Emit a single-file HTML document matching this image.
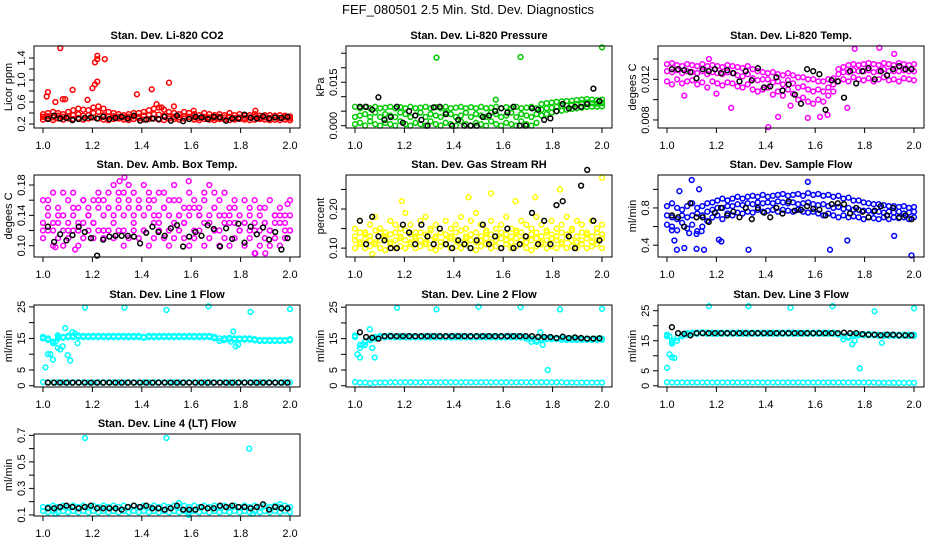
<!DOCTYPE html>
<html><head><meta charset="utf-8">
<style>
html,body{margin:0;padding:0;background:#fff;}
svg{display:block;font-family:"Liberation Sans",Arial,sans-serif;}
</style></head>
<body>
<svg id="chart" width="936" height="540" viewBox="0 0 936 540" xmlns="http://www.w3.org/2000/svg">
<rect x="0" y="0" width="936" height="540" fill="#fff"/>
<text x="468" y="14" text-anchor="middle" font-size="13">FEF_080501  2.5 Min. Std. Dev. Diagnostics</text>
</svg>
<script>
// ---------- data ----------
const xTicks = [1.0,1.2,1.4,1.6,1.8,2.0];
const xTickLabels = ["1.0","1.2","1.4","1.6","1.8","2.0"];

// Panel 1: CO2
const co2RedA = [0.38,0.40,0.42,0.40,0.38,0.42,0.45,0.48,0.46,0.45,0.50,0.52,0.48,0.42,0.40,0.38,0.36,0.38,0.40,0.40,0.42,0.45,0.48,0.50,0.46,0.42,0.40,0.38,0.42,0.40,0.38,0.36,0.40,0.38,0.36,0.38,0.36,0.40,0.36,0.38,0.35,0.36,0.38,0.35,0.36,0.36,0.35,0.36,0.35,0.34];
const co2RedB = [0.33,0.34,0.32,0.35,0.33,0.34,0.36,0.38,0.35,0.36,0.40,0.42,0.36,0.33,0.34,0.33,0.32,0.33,0.34,0.33,0.35,0.36,0.38,0.37,0.35,0.34,0.33,0.32,0.34,0.33,0.32,0.31,0.33,0.32,0.31,0.33,0.32,0.33,0.31,0.32,0.31,0.32,0.33,0.31,0.32,0.31,0.32,0.31,0.32,0.31];
const co2RedC = [0.28,0.30,0.27,0.30,0.28,0.30,0.29,0.31,0.28,0.30,0.32,0.30,0.28,0.27,0.29,0.30,0.28,0.27,0.29,0.30,0.28,0.29,0.30,0.28,0.27,0.30,0.29,0.28,0.30,0.29,0.28,0.27,0.29,0.28,0.27,0.29,0.28,0.27,0.28,0.29,0.28,0.27,0.28,0.29,0.28,0.27,0.28,0.27,0.28,0.27];
const co2RedOut = [[1.07,1.58],[1.22,1.44],[1.21,1.32],[1.22,1.38],[1.25,1.38],[1.02,0.78],[1.015,0.70],[1.2,0.85],[1.21,0.92],[1.22,0.97],[1.12,0.82],[1.08,0.65],[1.09,0.65],[1.05,0.60],[1.18,0.64],[1.38,0.74],[1.44,0.83],[1.51,0.95],[1.46,0.56],[1.53,0.52],[1.61,0.44],[1.86,0.44],[1.48,0.50],[1.0,0.33],[2.0,0.27]];
const co2Black = [0.29,0.35,0.30,0.31,0.27,0.29,0.31,0.32,0.30,0.33,0.29,0.31,0.33,0.30,0.35,0.26,0.28,0.30,0.29,0.33,0.26,0.35,0.25,0.29,0.33,0.32,0.29,0.33,0.32,0.26,0.30,0.30,0.37,0.31,0.30,0.34,0.30,0.32,0.31,0.33];

// Panel 2: Pressure
const prGreenA = [0.0065,0.006,0.0065,0.006,0.0065,0.006,0.0062,0.0065,0.006,0.0064,0.006,0.0065,0.006,0.0062,0.0065,0.006,0.0064,0.006,0.0065,0.006,0.0062,0.0065,0.006,0.0064,0.006,0.0065,0.006,0.0062,0.0065,0.006,0.0064,0.006,0.0065,0.006,0.0062,0.0065,0.006,0.0075,0.0078,0.008,0.0082,0.0084,0.0085,0.0086,0.0088,0.009,0.0092,0.009,0.0088,0.009];
const prGreenB = [0.003,0.0035,0.004,0.003,0.0045,0.003,0.004,0.0035,0.003,0.0045,0.004,0.003,0.0035,0.0045,0.003,0.004,0.0035,0.003,0.0045,0.004,0.003,0.0035,0.0045,0.003,0.004,0.0035,0.003,0.0045,0.004,0.003,0.0035,0.0045,0.003,0.004,0.0035,0.003,0.004,0.0055,0.006,0.0062,0.0065,0.0068,0.007,0.0072,0.0075,0.0078,0.008,0.0078,0.0076,0.0078];
const prGreenC = [0.0005,0.001,0.0,0.0015,0.0005,0.0,0.001,0.0005,0.0,0.0015,0.0005,0.0,0.001,0.0005,0.0,0.0015,0.0005,0.0,0.001,0.0005,0.0,0.0015,0.0005,0.0,0.001,0.0005,0.0,0.0015,0.0005,0.0,0.001,0.0005,0.0,0.0015,0.0005,0.0,0.001,0.0035,0.004,0.0045,0.005,0.0052,0.0055,0.0058,0.006,0.0062,0.0065,0.0066,0.0066,0.0067];
const prGreenOut = [[1.33,0.0235],[1.67,0.0237],[2.0,0.027],[1.57,0.0090]];
const prBlack = [0.0065,0.0065,0.0055,0.0098,0.002,0.003,0.0065,0.001,0.005,0.0035,0.002,0.0,0.0063,0.0065,0.004,0.0,0.002,0.0,0.0,0.0,0.003,0.0035,0.005,0.006,0.0045,0.0065,0.0,0.0,0.006,0.0055,0.002,0.0025,0.005,0.0075,0.006,0.0065,0.0065,0.0075,0.0128,0.0085];

// Panel 3: Li-820 Temp
const tpMagA = [0.0135,0.0136,0.0134,0.0133,0.0135,0.0134,0.0133,0.0135,0.0133,0.0134,0.0133,0.0132,0.0134,0.0133,0.0132,0.0131,0.0133,0.0130,0.0128,0.0127,0.0126,0.0127,0.0125,0.0124,0.0126,0.0124,0.0122,0.0122,0.0120,0.0120,0.0118,0.0118,0.0120,0.0121,0.0130,0.0132,0.0134,0.0135,0.0134,0.0135,0.0136,0.0135,0.0134,0.0136,0.0135,0.0134,0.0136,0.0135,0.0134,0.0135];
const tpMagB = [0.0128,0.0127,0.0129,0.0126,0.0128,0.0127,0.0126,0.0128,0.0125,0.0127,0.0126,0.0125,0.0127,0.0126,0.0124,0.0123,0.0125,0.0121,0.0119,0.0120,0.0120,0.0117,0.0118,0.0115,0.0119,0.0116,0.0112,0.0113,0.0110,0.0108,0.0110,0.0108,0.0112,0.0115,0.0125,0.0127,0.0127,0.0129,0.0128,0.0128,0.0129,0.0127,0.0128,0.0130,0.0128,0.0128,0.0128,0.0129,0.0128,0.0128];
const tpMagC = [0.0118,0.0115,0.0120,0.0116,0.0118,0.0119,0.0115,0.0117,0.0112,0.0118,0.0116,0.0114,0.0117,0.0116,0.0113,0.0112,0.0115,0.0110,0.0108,0.0110,0.0112,0.0105,0.0108,0.0104,0.0110,0.0106,0.0100,0.0102,0.0098,0.0096,0.0100,0.0098,0.0104,0.0108,0.0118,0.0120,0.0118,0.0122,0.0120,0.0119,0.0121,0.0118,0.0120,0.0122,0.0119,0.0120,0.0118,0.0121,0.0120,0.0119];
const tpMagOut = [[1.26,0.0092],[1.41,0.0073],[1.45,0.0083],[1.57,0.0082],[1.65,0.0085],[1.76,0.0150],[1.86,0.0151],[1.17,0.0140],[1.92,0.0145],[1.07,0.0104],[1.2,0.0106],[1.5,0.0094],[1.62,0.0083],[1.73,0.0092]];
const tpBlack = [0.0130,0.0130,0.0129,0.0127,0.0121,0.0130,0.0128,0.0130,0.0126,0.0129,0.0126,0.0118,0.0128,0.0119,0.0131,0.0112,0.0113,0.0122,0.0109,0.0115,0.0105,0.0096,0.0130,0.0128,0.0125,0.0090,0.0119,0.0118,0.0102,0.0128,0.0116,0.0128,0.0131,0.0120,0.0128,0.0124,0.0130,0.0133,0.0130,0.0130];

// Panel 4: Amb box temp
const abMagA = [0.16,0.15,0.17,0.15,0.14,0.16,0.17,0.15,0.16,0.15,0.16,0.17,0.16,0.17,0.18,0.16,0.17,0.18,0.17,0.16,0.18,0.17,0.16,0.17,0.17,0.16,0.18,0.16,0.15,0.17,0.16,0.15,0.17,0.18,0.17,0.16,0.17,0.15,0.16,0.14,0.16,0.15,0.16,0.14,0.15,0.16,0.14,0.15,0.14,0.16];
const abMagB = [0.13,0.14,0.12,0.13,0.12,0.13,0.14,0.12,0.13,0.14,0.13,0.15,0.14,0.15,0.14,0.15,0.14,0.15,0.14,0.15,0.14,0.15,0.13,0.14,0.15,0.14,0.13,0.14,0.13,0.14,0.15,0.14,0.13,0.14,0.15,0.14,0.13,0.14,0.13,0.12,0.13,0.12,0.13,0.12,0.13,0.12,0.13,0.14,0.13,0.12];
const abMagC = [0.11,0.12,0.10,0.11,0.10,0.11,0.12,0.10,0.11,0.12,0.11,0.12,0.11,0.12,0.11,0.12,0.10,0.11,0.12,0.11,0.12,0.10,0.11,0.12,0.11,0.10,0.11,0.12,0.11,0.10,0.11,0.12,0.10,0.11,0.12,0.10,0.11,0.10,0.11,0.12,0.10,0.11,0.09,0.10,0.11,0.10,0.11,0.10,0.11,0.12];
const abMagD = [0.12,0.16,0.13,0.14,0.17,0.12,0.15,0.13,0.16,0.14,0.13,0.16,0.12,0.15,0.13,0.17,0.12,0.16,0.13,0.15,0.12,0.16,0.14,0.13,0.15,0.12,0.16,0.14,0.13,0.15,0.12,0.14,0.16,0.13,0.15,0.12,0.14,0.13,0.15,0.12,0.13,0.14,0.12,0.15,0.13,0.12,0.14,0.13,0.12,0.14];
const abMagOut = [[1.33,0.19],[1.31,0.185],[1.59,0.185],[1.86,0.09],[1.9,0.09],[1.99,0.155],[1.05,0.098],[1.13,0.095]];
const abBlack = [0.125,0.105,0.115,0.107,0.114,0.125,0.118,0.110,0.087,0.108,0.112,0.113,0.113,0.113,0.112,0.103,0.117,0.125,0.118,0.113,0.123,0.127,0.099,0.112,0.118,0.113,0.127,0.122,0.099,0.123,0.109,0.129,0.104,0.125,0.115,0.124,0.108,0.118,0.095,0.110];

// Panel 5: Gas stream RH
const rhYelA = [0.10,0.11,0.10,0.105,0.11,0.10,0.095,0.11,0.10,0.105,0.10,0.11,0.10,0.105,0.11,0.10,0.095,0.105,0.11,0.10,0.105,0.10,0.11,0.10,0.095,0.105,0.11,0.10,0.105,0.10,0.11,0.10,0.105,0.11,0.10,0.095,0.105,0.11,0.10,0.105,0.10,0.11,0.10,0.105,0.10,0.11,0.10,0.105,0.11,0.10];
const rhYelB = [0.12,0.115,0.125,0.12,0.115,0.12,0.125,0.115,0.12,0.125,0.12,0.115,0.125,0.12,0.115,0.12,0.125,0.115,0.12,0.125,0.12,0.115,0.125,0.12,0.115,0.12,0.125,0.115,0.12,0.125,0.12,0.115,0.125,0.12,0.115,0.12,0.125,0.115,0.12,0.125,0.12,0.115,0.125,0.12,0.115,0.12,0.125,0.115,0.12,0.125];
const rhYelC = [0.15,0.17,0.14,0.16,0.18,0.15,0.14,0.17,0.16,0.15,0.19,0.16,0.14,0.17,0.18,0.15,0.16,0.14,0.17,0.15,0.16,0.18,0.15,0.17,0.19,0.16,0.14,0.17,0.15,0.16,0.18,0.15,0.14,0.17,0.16,0.15,0.18,0.16,0.14,0.17,0.15,0.16,0.18,0.15,0.17,0.16,0.14,0.17,0.15,0.16];
const rhYelD = [0.13,0.14,0.135,0.13,0.145,0.14,0.13,0.135,0.14,0.13,0.145,0.135,0.13,0.14,0.135,0.145,0.13,0.14,0.135,0.13,0.14,0.145,0.13,0.135,0.14,0.13,0.145,0.135,0.13,0.14,0.135,0.13,0.145,0.14,0.13,0.135,0.14,0.13,0.145,0.135,0.13,0.14,0.135,0.145,0.13,0.14,0.135,0.13,0.14,0.135];
const rhYelOut = [[2.0,0.28],[1.55,0.24],[1.83,0.25],[1.19,0.22],[1.46,0.23],[1.07,0.085],[1.73,0.23],[1.65,0.22]];
const rhBlack = [0.17,0.11,0.18,0.13,0.12,0.10,0.10,0.16,0.14,0.11,0.16,0.13,0.11,0.15,0.11,0.10,0.12,0.11,0.10,0.12,0.16,0.11,0.13,0.10,0.15,0.10,0.11,0.13,0.19,0.11,0.17,0.11,0.21,0.22,0.13,0.10,0.26,0.30,0.17,0.12];

// Panel 6: Sample flow
const sfBlueA = [0.82,0.85,0.80,0.78,0.82,0.85,0.80,0.82,0.85,0.86,0.88,0.90,0.88,0.90,0.92,0.90,0.92,0.93,0.92,0.94,0.92,0.93,0.94,0.95,0.93,0.94,0.95,0.93,0.96,0.94,0.95,0.93,0.94,0.92,0.93,0.90,0.91,0.88,0.88,0.86,0.85,0.84,0.84,0.83,0.82,0.82,0.81,0.82,0.80,0.81];
const sfBlueB = [0.72,0.70,0.68,0.72,0.70,0.72,0.74,0.72,0.76,0.78,0.80,0.80,0.82,0.82,0.84,0.83,0.85,0.84,0.86,0.85,0.86,0.85,0.87,0.86,0.85,0.86,0.84,0.85,0.86,0.84,0.83,0.84,0.82,0.80,0.81,0.79,0.80,0.78,0.78,0.77,0.77,0.76,0.76,0.75,0.76,0.75,0.76,0.74,0.75,0.76];
const sfBlueC = [0.62,0.60,0.56,0.64,0.58,0.62,0.55,0.60,0.66,0.70,0.72,0.68,0.74,0.72,0.75,0.74,0.76,0.75,0.78,0.76,0.77,0.78,0.76,0.78,0.77,0.76,0.78,0.76,0.75,0.76,0.74,0.72,0.74,0.72,0.70,0.72,0.70,0.71,0.70,0.68,0.70,0.69,0.68,0.70,0.68,0.70,0.69,0.70,0.68,0.70];
const sfBlueOut = [[1.1,1.1],[1.03,0.45],[1.04,0.35],[1.07,0.37],[1.12,0.36],[1.15,0.35],[1.21,0.46],[1.22,0.44],[1.33,0.35],[1.57,1.08],[1.66,0.35],[1.73,0.45],[1.92,0.50],[1.99,0.29],[1.05,0.98],[1.13,1.0],[1.12,0.52],[1.09,0.53],[1.14,0.55],[1.02,0.56]];
const sfBlack = [0.72,0.70,0.60,0.85,0.70,0.70,0.65,0.75,0.80,0.72,0.76,0.70,0.80,0.68,0.80,0.75,0.70,0.80,0.74,0.87,0.77,0.78,0.82,0.79,0.78,0.72,0.84,0.85,0.84,0.74,0.80,0.76,0.70,0.77,0.82,0.72,0.80,0.70,0.72,0.68];

// Panel 7: Line 1 flow
const l1CyanA = [15,15,14,15.5,15.5,15.8,15.8,16,15.8,15.8,15.8,15.8,15.8,15.8,15.8,15.8,15.8,15.8,15.8,15.8,15.5,15.8,15.8,15.8,15.8,15.8,15.8,15.8,15.8,15.8,15.8,15.8,15.8,15.8,15.5,15,15,15.2,15,15,15,15,14.8,14.5,14.5,14.5,14.5,14.5,14.5,14.8];
const l1CyanB = [15.5,14.5,13.5,15,15.2,15.4,15.4,15.5,15.4,15.4,15.4,15.4,15.4,15.4,15.4,15.4,15.4,15.4,15.4,15.4,15.2,15.4,15.4,15.4,15.4,15.4,15.4,15.4,15.4,15.4,15.4,15.4,15.4,15.4,15,14.2,14.5,14.8,14.6,14.6,14.6,14.6,14.4,14.2,14.2,14.2,14.2,14.2,14.2,14.4];
const l1CyanLow = [1.2,1.1,1.1,1.1,1.1,1.1,1.1,1.1,1.1,1.1,1.1,1.1,1.1,1.1,1.1,1.1,1.1,1.1,1.1,1.1,1.1,1.1,1.1,1.1,1.1,1.1,1.1,1.1,1.1,1.1,1.1,1.1,1.1,1.1,1.1,1.1,1.1,1.1,1.1,1.1,1.1,1.1,1.1,1.1,1.1,1.1,1.1,1.1,1.1,1.1];
const l1CyanOut = [[1.17,24.8],[1.33,24.8],[1.5,24.0],[1.67,25.2],[1.84,23.4],[2.0,24.3],[1.01,5.8],[1.02,10],[1.03,10],[1.04,8.3],[1.06,12],[1.07,11.5],[1.09,18.3],[1.08,12.5],[1.1,9.7],[1.11,8],[1.12,17],[1.13,16.5],[1.14,13.5],[1.77,17.2],[1.78,12.5],[1.79,13],[1.76,14],[1.05,14],[1.06,16],[1.0,15.5]];
const l1Black = [1.0,1.0,1.0,1.0,1.0,1.0,1.0,1.0,1.0,1.0,1.0,1.0,1.0,1.0,1.0,1.0,1.0,1.0,1.0,1.0,1.0,1.0,1.0,1.0,1.0,1.0,1.0,1.0,1.0,1.0,1.0,1.0,1.0,1.0,1.0,1.0,1.0,1.0,1.0,1.0];

// Panel 8: Line 2 flow
const l2CyanA = [15.5,13,14,15,15.5,15.8,15.8,16,15.8,15.8,15.8,15.8,15.8,15.8,15.8,15.8,15.8,15.8,15.8,15.8,15.8,15.8,15.8,15.8,15.8,15.8,15.8,15.8,15.8,15.8,15.8,15.8,15.8,15.8,15.5,15,14.5,15,15.2,15.2,15.2,15.2,15,15,15,15,15,15,15,15];
const l2CyanB = [16,12,13,14.5,15,15.4,15.4,15.5,15.4,15.4,15.4,15.4,15.4,15.4,15.4,15.4,15.4,15.4,15.4,15.4,15.4,15.4,15.4,15.4,15.4,15.4,15.4,15.4,15.4,15.4,15.4,15.4,15.4,15.4,15,14,14,14.6,14.8,14.8,14.8,14.6,14.6,14.6,14.6,14.6,14.6,14.6,14.6,14.6];
const l2CyanLow = [1.2,1.0,1.0,0.8,1.0,1.0,1.0,1.1,1.1,1.1,1.1,1.1,1.1,1.1,1.1,1.1,1.1,1.1,1.1,1.1,1.1,1.1,1.1,1.1,1.1,1.1,1.1,1.1,1.1,1.1,1.1,1.1,1.1,1.1,1.1,1.1,1.1,1.1,1.1,1.1,1.1,1.1,1.0,1.0,1.0,1.0,1.0,1.0,1.0,1.0];
const l2CyanOut = [[1.17,24.8],[1.33,24.3],[1.5,25.2],[1.67,25],[1.83,24.3],[2.0,24.5],[1.78,5],[1.01,10],[1.02,9],[1.08,9],[1.07,12],[1.06,18],[1.03,13],[1.04,14],[1.76,13],[1.75,17],[1.0,15.5]];
const l2Black = [17,15.5,15.3,15,15.8,15.8,15.8,15.8,15.8,15.8,15.8,15.8,15.8,15.8,15.8,15.8,15.8,15.8,15.8,15.8,15.8,15.8,15.8,15.8,15.8,15.8,15.8,15.8,15.8,15.5,15.5,15.5,15.2,15.6,15.2,15.4,15.2,15,15,15.1];

// Panel 9: Line 3 flow
const l3CyanA = [16.5,14,15,16.5,17,17.3,17.3,17.5,17.3,17.3,17.3,17.3,17.3,17.3,17.3,17.3,17.3,17.3,17.3,17.3,17.3,17.3,17.3,17.3,17.3,17.3,17.3,17.3,17.3,17.3,17.3,17.3,17.3,17.3,17,16.5,16,16.6,16.8,16.8,16.8,16.8,16.6,16.6,16.6,16.6,16.6,16.6,16.6,16.6];
const l3CyanB = [17,15,16,17,17.5,17.7,17.7,17.8,17.7,17.7,17.7,17.7,17.7,17.7,17.7,17.7,17.7,17.7,17.7,17.7,17.7,17.7,17.7,17.7,17.7,17.7,17.7,17.7,17.7,17.7,17.7,17.7,17.7,17.7,17.4,15.5,16.5,17.2,17.2,17.2,17.2,17.1,17,17,17,17,17,17,17,17];
const l3CyanLow = [1.2,1.1,1.1,1.1,1.1,1.1,1.1,1.1,1.1,1.1,1.1,1.1,1.1,1.1,1.1,1.1,1.1,1.1,1.1,1.1,1.1,1.1,1.1,1.1,1.1,1.1,1.1,1.1,1.1,1.1,1.1,1.1,1.1,1.1,1.1,1.1,1.1,1.1,1.1,1.1,1.1,1.1,1.0,1.0,1.0,1.0,1.0,1.0,1.0,1.0];
const l3CyanOut = [[1.17,26.5],[1.33,26.5],[1.5,26],[1.67,26.5],[1.84,24.8],[2.0,25.8],[1.0,6],[1.01,10.5],[1.02,9.5],[1.03,9.3],[1.02,14.5],[1.78,5.8],[1.75,13.8],[1.76,15],[1.87,14.3],[1.01,16.5]];
const l3Black = [19.5,17.5,17.3,16.8,17.5,17.5,17.5,17.5,17.5,17.5,17.5,17.5,17.5,17.5,17.5,17.5,17.5,17.5,17.5,17.5,17.5,17.5,17.5,17.5,17.5,17.5,17.5,17.5,17.7,17.5,17.5,17.2,17,17,16.8,17,17,16.8,16.8,16.8];

// Panel 10: Line 4 (LT) flow
const l4CyanA = [0.16,0.16,0.17,0.16,0.17,0.16,0.17,0.16,0.17,0.16,0.17,0.16,0.17,0.16,0.17,0.16,0.17,0.16,0.17,0.16,0.17,0.16,0.17,0.16,0.17,0.16,0.17,0.16,0.17,0.16,0.17,0.16,0.17,0.16,0.17,0.16,0.17,0.16,0.17,0.16,0.17,0.16,0.17,0.16,0.17,0.16,0.17,0.16,0.17,0.16];
const l4CyanB = [0.13,0.12,0.13,0.12,0.13,0.12,0.13,0.12,0.13,0.12,0.13,0.12,0.13,0.12,0.13,0.12,0.13,0.12,0.13,0.12,0.13,0.12,0.13,0.12,0.13,0.12,0.13,0.12,0.13,0.12,0.13,0.12,0.13,0.12,0.13,0.12,0.13,0.12,0.13,0.12,0.13,0.12,0.13,0.12,0.13,0.12,0.13,0.12,0.13,0.12];
const l4CyanOut = [[1.17,0.68],[1.5,0.68],[1.835,0.60],[1.55,0.19],[1.05,0.11],[1.59,0.10],[1.85,0.11],[1.96,0.18]];
const l4Black = [0.15,0.15,0.16,0.17,0.16,0.15,0.16,0.17,0.15,0.15,0.15,0.15,0.14,0.16,0.17,0.16,0.17,0.15,0.15,0.14,0.15,0.17,0.14,0.14,0.14,0.16,0.15,0.15,0.17,0.16,0.17,0.16,0.16,0.15,0.16,0.18,0.14,0.16,0.15,0.15];

// ---------- panels ----------
const CY = "#00ffff", MG = "#ff00ff";
const panels = [
 {id:"co2",title:"Stan. Dev. Li-820 CO2",ylab:"Licor ppm",col:0,row:0,ylim:[0.127,1.618],yt:[0.2,0.4,0.6,0.8,1.0,1.2,1.4],yl:["0.2","","0.6","","1.0","","1.4"],
  bands:[[co2RedA,"red"],[co2RedB,"red"],[co2RedC,"red"]],out:[co2RedOut,"red"],blk:co2Black},
 {id:"pressure",title:"Stan. Dev. Li-820 Pressure",ylab:"kPa",col:1,row:0,ylim:[-0.0008,0.0275],yt:[0,0.005,0.01,0.015,0.02,0.025],yl:["0.000","","","0.015","",""],
  bands:[[prGreenA,"#00cc00"],[prGreenB,"#00cc00"],[prGreenC,"#00cc00"]],out:[prGreenOut,"#00cc00"],blk:prBlack},
 {id:"temp",title:"Stan. Dev. Li-820 Temp.",ylab:"degees C",col:2,row:0,ylim:[0.00721,0.01528],yt:[0.008,0.010,0.012,0.014],yl:["0.008","","0.012",""],
  bands:[[tpMagA,MG],[tpMagB,MG],[tpMagC,MG]],out:[tpMagOut,MG],blk:tpBlack},
 {id:"amb-box",title:"Stan. Dev. Amb. Box Temp.",ylab:"degees C",col:0,row:1,ylim:[0.0851,0.1932],yt:[0.10,0.12,0.14,0.16,0.18],yl:["0.10","","0.14","","0.18"],
  bands:[[abMagA,MG],[abMagB,MG],[abMagC,MG],[abMagD,MG]],out:[abMagOut,MG],blk:abBlack},
 {id:"rh",title:"Stan. Dev. Gas Stream RH",ylab:"percent",col:1,row:1,ylim:[0.0773,0.287],yt:[0.10,0.15,0.20,0.25],yl:["0.10","","0.20",""],
  bands:[[rhYelA,"#ffff00"],[rhYelB,"#ffff00"],[rhYelD,"#ffff00"],[rhYelC,"#ffff00"]],out:[rhYelOut,"#ffff00"],blk:rhBlack},
 {id:"sample-flow",title:"Stan. Dev. Sample Flow",ylab:"ml/min",col:2,row:1,ylim:[0.273,1.154],yt:[0.4,0.6,0.8,1.0],yl:["0.4","","0.8",""],
  bands:[[sfBlueA,"#0000ff"],[sfBlueB,"#0000ff"],[sfBlueC,"#0000ff"]],out:[sfBlueOut,"#0000ff"],blk:sfBlack},
 {id:"line1",title:"Stan. Dev. Line 1 Flow",ylab:"ml/min",col:0,row:2,ylim:[-0.4,25.6],yt:[0,5,10,15,20,25],yl:["0","5","","15","","25"],
  bands:[[l1CyanA,CY],[l1CyanB,CY],[l1CyanLow,CY]],out:[l1CyanOut,CY],blk:l1Black},
 {id:"line2",title:"Stan. Dev. Line 2 Flow",ylab:"ml/min",col:1,row:2,ylim:[-0.4,25.7],yt:[0,5,10,15,20,25],yl:["0","5","","15","","25"],
  bands:[[l2CyanA,CY],[l2CyanB,CY],[l2CyanLow,CY]],out:[l2CyanOut,CY],blk:l2Black},
 {id:"line3",title:"Stan. Dev. Line 3 Flow",ylab:"ml/min",col:2,row:2,ylim:[-0.4,26.9],yt:[0,5,10,15,20,25],yl:["0","5","","15","","25"],
  bands:[[l3CyanA,CY],[l3CyanB,CY],[l3CyanLow,CY]],out:[l3CyanOut,CY],blk:l3Black},
 {id:"line4",title:"Stan. Dev. Line 4 (LT) Flow",ylab:"ml/min",col:0,row:3,ylim:[0.092,0.71],yt:[0.1,0.2,0.3,0.4,0.5,0.6,0.7],yl:["0.1","","0.3","","0.5","","0.7"],
  bands:[[l4CyanA,CY],[l4CyanB,CY]],out:[l4CyanOut,CY],blk:l4Black}
];

const NS="http://www.w3.org/2000/svg";
const svg=document.getElementById("chart");
const colLeft=[34,346,658], rowTop=[46,175,305,434], W=266, H=82;
function mk(tag,attrs,parent){const e=document.createElementNS(NS,tag);for(const k in attrs)e.setAttribute(k,attrs[k]);parent.appendChild(e);return e;}

panels.forEach(p=>{
  const L=colLeft[p.col], T=rowTop[p.row], B=T+H;
  const g=mk("g",{},svg);
  
  
  const xs=x=>L+9+(x-1)*247;
  const ys=y=>B-(y-p.ylim[0])/(p.ylim[1]-p.ylim[0])*H;
  const t=mk("text",{x:L+W/2,y:T-7,"text-anchor":"middle","font-size":"11","font-weight":"bold"},g);
  t.textContent=p.title;
  
  
  // points
  const pts=mk("g",{fill:"none","stroke-width":"1.5"},g);
  
  
  function dot(x,y,c,name){
    const ci=mk("circle",{cx:xs(x).toFixed(1),cy:ys(y).toFixed(1),r:"2.4",stroke:c},pts);
    
    
  }
  p.bands.forEach(([arr,c])=>{const n=arr.length;arr.forEach((v,i)=>dot(1+i/(n-1),v,c,p.id+'-point'));});
  p.out[0].forEach(([x,y])=>dot(x,y,p.out[1],p.id+'-outlier'));
  const nb=p.blk.length;
  p.blk.forEach((v,i)=>dot(1.02+i*0.97/(nb-1),v,"#000",p.id+'-black-point'));
  // box
  const bx=mk("rect",{x:L,y:T,width:W,height:H,fill:"none",stroke:"#000","stroke-width":"1"},g);
  
  
  // x axis
  xTicks.forEach((v,i)=>{
    const X=xs(v);
    const tk=mk("line",{x1:X,x2:X,y1:B,y2:B+5,stroke:"#000"},g);
    
    
    const lb=mk("text",{x:X,y:B+21,"text-anchor":"middle","font-size":"11"},g);
    lb.textContent=xTickLabels[i];
    
    
  });
  // y axis
  p.yt.forEach((v,i)=>{
    const Y=ys(v);
    const tk=mk("line",{x1:L-5,x2:L,y1:Y,y2:Y,stroke:"#000"},g);
    
    
    if(p.yl[i]){
      const lb=mk("text",{x:L-9,y:Y,"text-anchor":"middle","font-size":"11",transform:`rotate(-90 ${L-9} ${Y})`},g);
      lb.textContent=p.yl[i];
      
      
    }
  });
  const yl=mk("text",{x:L-22,y:T+H/2,"text-anchor":"middle","font-size":"11",transform:`rotate(-90 ${L-22} ${T+H/2})`},g);
  yl.textContent=p.ylab;
  
  
});
</script>
</body></html>
